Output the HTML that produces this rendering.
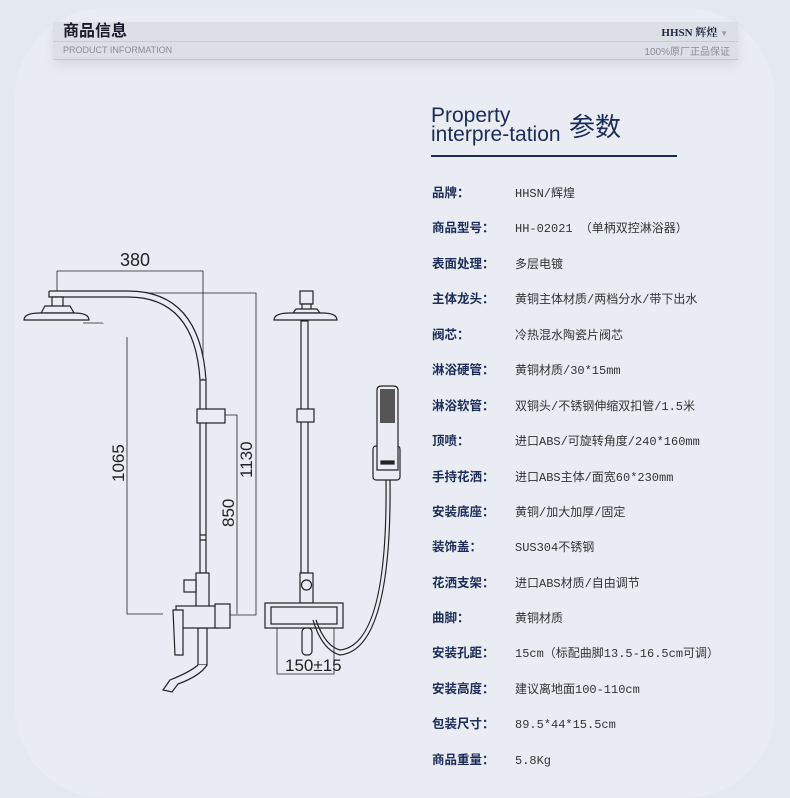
<!DOCTYPE html>
<html><head><meta charset="utf-8"><style>
body{margin:0;width:790px;height:796px;overflow:hidden;background:#e4e8ef;font-family:"Liberation Sans","Noto Sans CJK SC",sans-serif;position:relative}
.panel{position:absolute;left:15px;top:8px;width:760px;height:790px;border-radius:90px;background:#e9edf3}
.bar{position:absolute;left:53px;top:22px;width:685px;height:37px;background:#dcdfe6;border-bottom:1px solid #c3c6cc;box-shadow:0 6px 10px rgba(0,0,0,.08)}
.bar .div{position:absolute;left:0;right:0;top:19px;border-top:1px solid #c8cbd2}
.t1{position:absolute;left:10px;top:0;font-size:16px;font-weight:bold;color:#1a1a2a;line-height:20px}
.t2{position:absolute;left:10px;top:21px;font-size:9px;color:#8a8c92;line-height:14px}
.t3{position:absolute;right:10px;top:2px;font-size:11px;font-weight:bold;color:#1e2644;font-family:"Liberation Serif","Noto Serif CJK SC",serif}
.t4{position:absolute;right:8px;top:21px;font-size:10px;color:#8a8c92}
.h{position:absolute;left:431px;top:106px;color:#1b2b5a;font-size:21px;line-height:19px}
.h b{font-size:26px;font-weight:normal;position:absolute;left:138px;top:12px;white-space:nowrap}
.hl{position:absolute;left:431px;top:155px;width:246px;border-top:2px solid #1b2b5a}
.r{position:absolute;left:432px;font-size:12.5px;white-space:nowrap;line-height:16px}
.r span{color:#1b2b5a;font-weight:bold;display:inline-block;width:83px}
.r i{font-style:normal;color:#333;font-family:"Liberation Mono","Noto Sans CJK SC",monospace;font-size:12px}
</style></head><body>
<div class="panel"></div>
<div class="bar"><div class="div"></div><div class="t1">商品信息</div><div class="t2">PRODUCT INFORMATION</div><div class="t3">HHSN 辉煌 <span style="color:#999;font-size:8px">▼</span></div><div class="t4">100%原厂正品保证</div></div>
<div class="h">Property<br>interpre-tation<b>参数</b></div>
<div class="hl"></div>
<div class="r" style="top:185px"><span>品牌：</span><i>HHSN/辉煌</i></div>
<div class="r" style="top:220px"><span>商品型号：</span><i>HH-02021 （单柄双控淋浴器）</i></div>
<div class="r" style="top:256px"><span>表面处理：</span><i>多层电镀</i></div>
<div class="r" style="top:291px"><span>主体龙头：</span><i>黄铜主体材质/两档分水/带下出水</i></div>
<div class="r" style="top:327px"><span>阀芯：</span><i>冷热混水陶瓷片阀芯</i></div>
<div class="r" style="top:362px"><span>淋浴硬管：</span><i>黄铜材质/30*15mm</i></div>
<div class="r" style="top:398px"><span>淋浴软管：</span><i>双铜头/不锈钢伸缩双扣管/1.5米</i></div>
<div class="r" style="top:433px"><span>顶喷：</span><i>进口ABS/可旋转角度/240*160mm</i></div>
<div class="r" style="top:469px"><span>手持花洒：</span><i>进口ABS主体/面宽60*230mm</i></div>
<div class="r" style="top:504px"><span>安装底座：</span><i>黄铜/加大加厚/固定</i></div>
<div class="r" style="top:539px"><span>装饰盖：</span><i>SUS304不锈钢</i></div>
<div class="r" style="top:575px"><span>花洒支架：</span><i>进口ABS材质/自由调节</i></div>
<div class="r" style="top:610px"><span>曲脚：</span><i>黄铜材质</i></div>
<div class="r" style="top:645px"><span>安装孔距：</span><i>15cm（标配曲脚13.5-16.5cm可调）</i></div>
<div class="r" style="top:681px"><span>安装高度：</span><i>建议离地面100-110cm</i></div>
<div class="r" style="top:716px"><span>包装尺寸：</span><i>89.5*44*15.5cm</i></div>
<div class="r" style="top:752px"><span>商品重量：</span><i>5.8Kg</i></div>
<svg style="position:absolute;left:0;top:0" width="790" height="796" fill="none" stroke="#222" stroke-width="1.2">
<g stroke-width="0.8">
<path d="M57 293V271H203V380"/>
<path d="M130 293H256V615H230"/>
<path d="M83 323H127V614H163"/>
<path d="M225 415H237V614"/>
<path d="M277 628V674H334V628"/>
</g>
<g fill="#222" stroke="none" font-family="Liberation Sans Narrow,Liberation Sans,sans-serif" font-size="17">
<text x="120" y="266" font-size="18">380</text>
<text transform="translate(124,482) rotate(-90)">1065</text>
<text transform="translate(252,478) rotate(-90)">1130</text>
<text transform="translate(234,527) rotate(-90)">850</text>
<text x="285" y="671">150±15</text>
</g>
<path d="M49 291H128Q200 291 206 380M49 291V297H128Q195 297 200 380" fill="#e9edf3"/>
<path d="M52 297H63V306H52Z M45 306H70L74 313H41Z" fill="#e9edf3"/>
<path d="M24 320Q24 313 40 313H74Q89 313 89 320Z" fill="#e9edf3"/>
<rect x="200" y="380" width="6" height="193" fill="#e9edf3"/>
<rect x="197" y="409" width="28" height="14" fill="#e9edf3"/>
<path d="M200 535H206M200 540H206"/>
<rect x="196" y="573" width="13" height="34" fill="#e9edf3"/>
<rect x="184" y="580" width="12" height="12" fill="#e9edf3"/>
<rect x="198" y="628" width="9" height="37" fill="#e9edf3"/>
<path d="M198 665Q190 672 170 680L163 690L172 692L178 684Q200 676 207 665" fill="#e9edf3"/>
<rect x="176" y="606" width="42" height="22" fill="#e9edf3"/>
<rect x="215" y="604" width="15" height="24" fill="#e9edf3"/>
<path d="M173 610H183V655H175Z" fill="#e9edf3"/>
<rect x="300" y="291" width="13" height="13" fill="#e9edf3"/>
<path d="M302 304H311V309H302Z M296 309H317L320 313H293Z" fill="#e9edf3"/>
<path d="M274 320Q274 313 290 313H322Q337 313 337 320Z" fill="#e9edf3"/>
<rect x="301" y="321" width="7" height="252" fill="#e9edf3"/>
<rect x="297" y="409" width="17" height="13" fill="#e9edf3"/>
<rect x="300" y="573" width="13" height="30" fill="#e9edf3"/>
<circle cx="306.5" cy="585" r="5"/>
<rect x="265" y="603" width="78" height="25" fill="#e9edf3"/>
<rect x="271" y="607" width="66" height="17"/>
<rect x="302" y="628" width="10" height="27" rx="4" fill="#e9edf3"/>
<path d="M390 480Q392 650 340 655Q322 650 313 620M386 480Q388 645 340 650Q325 646 316 620"/>
<rect x="373" y="446" width="27" height="34" rx="3" fill="#e9edf3"/>
<path d="M377 390Q377 386 382 386H393Q398 386 398 390V470H377Z" fill="#e9edf3"/>
<rect x="380" y="389" width="15" height="34" fill="#555" stroke="none"/>
<rect x="381" y="461" width="13" height="3" fill="#222"/>
</svg>
</body></html>
